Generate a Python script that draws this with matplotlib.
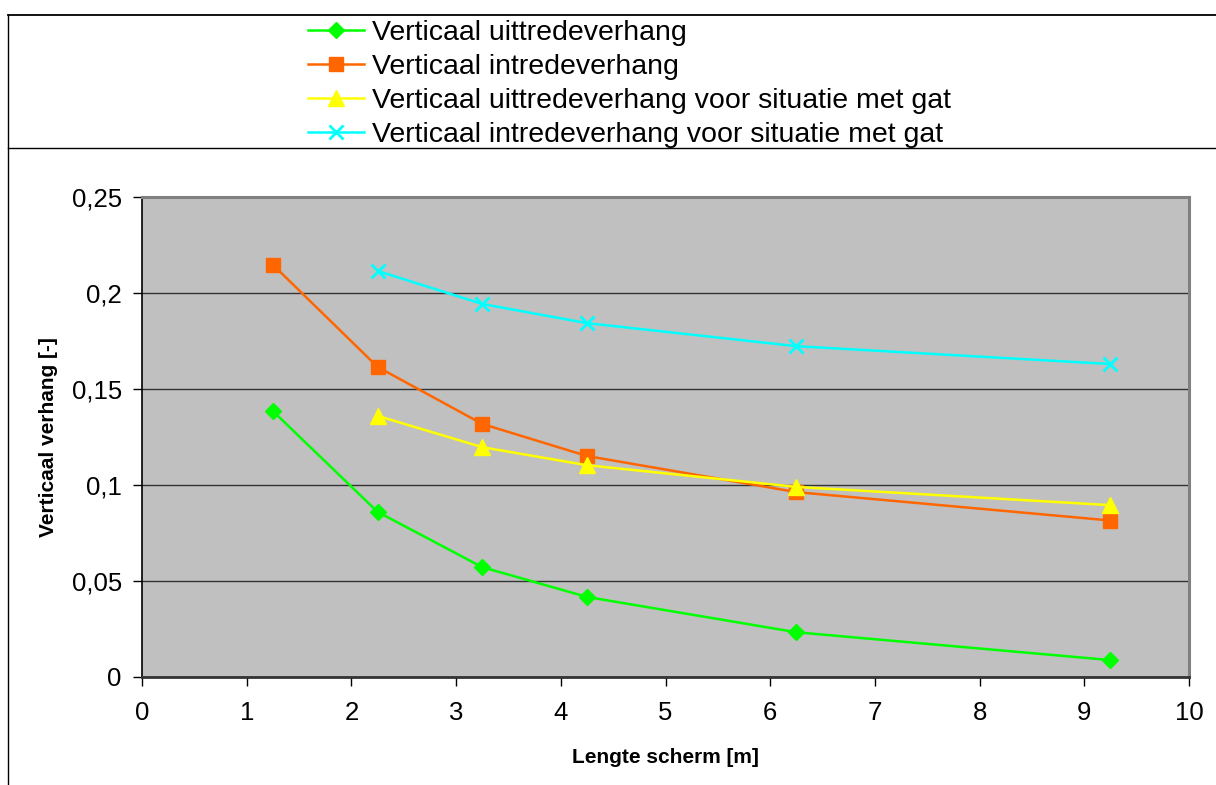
import matplotlib
matplotlib.use("Agg")
import matplotlib.pyplot as plt
from matplotlib.lines import Line2D
from matplotlib.ticker import FixedLocator, FixedFormatter

plt.rcParams['font.family'] = ['Liberation Sans', 'DejaVu Sans']

# ---- data ----
x_main = [1.25, 2.25, 3.25, 4.25, 6.25, 9.25]
uittrede = [0.1385, 0.0860, 0.0572, 0.0417, 0.0233, 0.0088]
intrede = [0.2147, 0.1615, 0.1318, 0.1151, 0.0963, 0.0815]

x_gat = [2.25, 3.25, 4.25, 6.25, 9.25]
uittrede_gat = [0.1360, 0.1197, 0.1103, 0.0990, 0.0895]
intrede_gat = [0.2115, 0.1943, 0.1843, 0.1723, 0.1630]

series_labels = [
    "Verticaal uittredeverhang",
    "Verticaal intredeverhang",
    "Verticaal uittredeverhang voor situatie met gat",
    "Verticaal intredeverhang voor situatie met gat",
]

x_ticks = [0, 1, 2, 3, 4, 5, 6, 7, 8, 9, 10]
x_tick_labels = ["0", "1", "2", "3", "4", "5", "6", "7", "8", "9", "10"]
y_ticks = [0, 0.05, 0.10, 0.15, 0.20, 0.25]
y_tick_labels = ["0", "0,05", "0,1", "0,15", "0,2", "0,25"]

x_label = "Lengte scherm [m]"
y_label = "Verticaal verhang [-]"

# ---- figure ----
W, H = 1216, 785
fig = plt.figure(figsize=(W / 100, H / 100), dpi=100)
fig.patch.set_facecolor("white")

ax = fig.add_axes([142 / W, 1 - 677 / H, (1189 - 142) / W, (677 - 197) / H])
ax.set_facecolor("#C0C0C0")

lw = 1.8
h1, = ax.plot(x_main, uittrede, color="#00FF00", lw=lw, marker="D", ms=8,
              mec="#00FF00", mfc="#00FF00", label=series_labels[0], zorder=3)
h2, = ax.plot(x_main, intrede, color="#FF6600", lw=lw, marker="s", ms=10.5,
              mec="#FF6600", mfc="#FF6600", label=series_labels[1], zorder=3)
h3, = ax.plot(x_gat, uittrede_gat, color="#FFFF00", lw=lw, marker="^", ms=11,
              mec="#FFFF00", mfc="#FFFF00", label=series_labels[2], zorder=3)
h4, = ax.plot(x_gat, intrede_gat, color="#00FFFF", lw=lw, marker="x", ms=10,
              mew=2, mec="#00FFFF", label=series_labels[3], zorder=3)

ax.set_xlim(0, 10)
ax.set_ylim(0, 0.25)
ax.xaxis.set_major_locator(FixedLocator(x_ticks))
ax.xaxis.set_major_formatter(FixedFormatter(x_tick_labels))
ax.yaxis.set_major_locator(FixedLocator(y_ticks))
ax.yaxis.set_major_formatter(FixedFormatter(y_tick_labels))

ax.grid(axis="y", color="#333333", lw=1.0, zorder=1)
ax.set_axisbelow(True)

ax.tick_params(axis="both", direction="out", length=6.5, width=1, color="black",
               labelsize=18.5, labelcolor="black")
ax.tick_params(axis="y", pad=8)
ax.tick_params(axis="x", pad=11)

for s in ["top", "right"]:
    ax.spines[s].set_color("#808080")
    ax.spines[s].set_linewidth(2.2)
ax.spines["left"].set_color("black")
ax.spines["left"].set_linewidth(1.2)
ax.spines["bottom"].set_color("#333333")
ax.spines["bottom"].set_linewidth(2.0)

ax.set_xlabel(x_label, fontsize=15, fontweight="bold", labelpad=16)
ax.set_ylabel(y_label, fontsize=15, fontweight="bold", labelpad=10)

# frame lines of the chart area (figure coords)
fig.add_artist(Line2D([8 / W, 1.0], [1 - 14.5 / H, 1 - 14.5 / H], color="black", lw=1.3,
                      transform=fig.transFigure))
fig.add_artist(Line2D([8 / W, 1.0], [1 - 148 / H, 1 - 148 / H], color="black", lw=1.0,
                      transform=fig.transFigure))
fig.add_artist(Line2D([8 / W, 8 / W], [1 - 14.5 / H, 0], color="black", lw=1.0,
                      transform=fig.transFigure))

leg = fig.legend(handles=[h1, h2, h3, h4], loc="upper left",
                 bbox_to_anchor=(308 / W, 1 - 20 / H), frameon=False,
                 fontsize=20.5, handlelength=1.95, handletextpad=0.3,
                 labelspacing=0.28, borderpad=0, borderaxespad=0)

fig.savefig("out.png", dpi=100)
